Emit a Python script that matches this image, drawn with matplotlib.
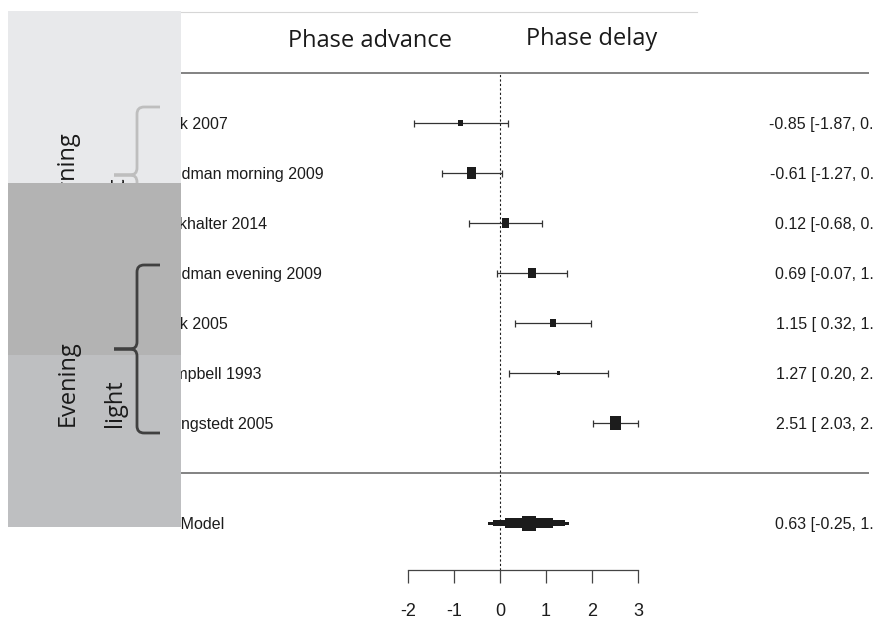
import matplotlib
matplotlib.use("Agg")
import matplotlib.pyplot as plt
from matplotlib.patches import Rectangle, PathPatch
from matplotlib.path import Path
from matplotlib.lines import Line2D
from matplotlib.transforms import Affine2D, Bbox, TransformedBbox

plt.rcParams['axes.unicode_minus'] = False

# forest plot data (standardised mean difference, 95% CI)
studies = ["Lack 2007", "Friedman morning 2009", "Burkhalter 2014",
           "Friedman evening 2009", "Lack 2005", "Campbell 1993", "Youngstedt 2005"]
est = [-0.85, -0.61, 0.12, 0.69, 1.15, 1.27, 2.51]
ci_lo = [-1.87, -1.27, -0.68, -0.07, 0.32, 0.20, 2.03]
ci_hi = [0.17, 0.05, 0.92, 1.45, 1.98, 2.34, 2.99]
weights = [10, 18, 14, 16, 13, 7, 22]

model_label = "RE Model"
model_est = 0.63
model_lo = -0.25
model_hi = 1.51

xticks = [-2, -1, 0, 1, 2, 3]

rfont = ['Liberation Sans', 'DejaVu Sans']
ofont = ['Open Sans', 'DejaVu Sans']
ink = '#1c1c1c'
fs = 11.5

fig = plt.figure(figsize=(8.74, 6.21), dpi=100)
# pixel coords, origin top-left (used for the slide overlay bits)
px = Affine2D().scale(1 / 100, -1 / 100).translate(0, 6.21) + fig.dpi_scale_trans

ax = fig.add_axes([0, 51 / 621, 1, 570 / 621])
ax.set_xlim(-500 / 46, 374 / 46)
ax.set_ylim(-1.94, 9.46)
for s in ['top', 'left', 'right']:
    ax.spines[s].set_visible(False)
ax.spines['bottom'].set_bounds(xticks[0], xticks[-1])
ax.spines['bottom'].set_color('#444444')
ax.spines['bottom'].set_linewidth(0.9)
ax.set_yticks([])
ax.set_xticks(xticks)
ax.set_xticklabels([str(t) for t in xticks], fontsize=13, family=rfont, color=ink)
ax.tick_params(axis='x', length=9.5, width=0.9, color='#444444', pad=14.5)

k = len(studies)
rows = list(range(k, 0, -1))
model_row = -1

lab_x = (154 - 500) / 46
res_x = (896 - 500) / 46
line_x1 = (869 - 500) / 46

# header / separator lines and the zero reference
ax.hlines([k + 1, 0], lab_x, line_x1, color='#606060', lw=1.1)
ax.vlines(0, -1.94, k + 1, color=ink, lw=0.8, linestyle=(0, (2, 2)))

# labels are cut by the slide box on the left
clipbox = TransformedBbox(Bbox([[181, 0], [874, 621]]), px)

for r, name, e, lo, hi, wt in zip(rows, studies, est, ci_lo, ci_hi, weights):
    ax.hlines(r, lo, hi, color='#333333', lw=0.9)
    ax.vlines([lo, hi], r - 0.07, r + 0.07, color='#333333', lw=0.9)
    bw = wt * 0.5 / 46
    bh = wt * 0.5 * 1.35 / 50
    ax.add_patch(Rectangle((e - bw / 2, r - bh / 2), bw, bh, facecolor=ink,
                           edgecolor='none', zorder=3))
    t = ax.text(lab_x, r - 0.12, name, ha='left', va='baseline', fontsize=fs,
                family=rfont, color=ink, clip_on=True)
    t.set_clip_path(None)
    t.set_clip_box(clipbox)
    ax.text(res_x, r - 0.12, f"{e:.2f} [{lo:5.2f}, {hi:.2f}]", ha='right',
            va='baseline', fontsize=fs, family=rfont, color=ink)

# summary polygon (stepped diamond as in the source image)
half = (model_hi - model_lo) / 2
for frac, hh in zip([1.0, 0.88, 0.6, 0.18], [1.5, 3.4, 5.4, 7.5]):
    ax.add_patch(Rectangle((model_est - frac * half, model_row - hh / 50),
                           2 * frac * half, 2 * hh / 50, facecolor=ink,
                           edgecolor='none', zorder=3))
t = ax.text(lab_x, model_row - 0.12, model_label, ha='left', va='baseline',
            fontsize=fs, family=rfont, color=ink, clip_on=True)
t.set_clip_path(None)
t.set_clip_box(clipbox)
ax.text(res_x, model_row - 0.12, f"{model_est:.2f} [{model_lo:.2f}, {model_hi:.2f}]",
        ha='right', va='baseline', fontsize=fs, family=rfont, color=ink)

# slide overlay: headers, grey boxes, braces
fig.add_artist(Line2D([181, 697], [11.5, 11.5], transform=px, color='#d6d6d6', lw=0.8))
fig.text(369.5, 47, "Phase advance", transform=px, ha='center', va='baseline',
         fontsize=17, family=ofont, color='#1a1a1a')
fig.text(591.5, 45, "Phase delay", transform=px, ha='center', va='baseline',
         fontsize=17, family=ofont, color='#1a1a1a')


def brace(x_end, x_spine, x_tip, y_top, y_bot, r=7):
    y_mid = (y_top + y_bot) / 2
    verts = [(x_end, y_top), (x_spine + r, y_top), (x_spine, y_top), (x_spine, y_top + r),
             (x_spine, y_mid - r), (x_spine, y_mid), (x_spine - r, y_mid),
             (x_tip, y_mid), (x_spine - r, y_mid), (x_spine, y_mid), (x_spine, y_mid + r),
             (x_spine, y_bot - r), (x_spine, y_bot), (x_spine + r, y_bot), (x_end, y_bot)]
    codes = [Path.MOVETO, Path.LINETO, Path.CURVE3, Path.CURVE3,
             Path.LINETO, Path.CURVE3, Path.CURVE3,
             Path.LINETO, Path.LINETO, Path.CURVE3, Path.CURVE3,
             Path.LINETO, Path.CURVE3, Path.CURVE3, Path.LINETO]
    return Path(verts, codes)


fig.add_artist(Rectangle((8, 11), 173, 172, transform=px, facecolor='#e8e9eb',
                         edgecolor='none', zorder=10))
fig.add_artist(PathPatch(brace(160, 137, 114, 107, 243), transform=px, facecolor='none',
                         edgecolor='#bebebe', lw=2, zorder=11))
fig.text(67, 177, "Morning", transform=px, rotation=90, ha='center', va='center',
         fontsize=17, family=ofont, color='#1a1a1a', zorder=11)
fig.text(117, 200, "light", transform=px, rotation=90, ha='center', va='center',
         fontsize=17, family=ofont, color='#1a1a1a', zorder=11)

fig.add_artist(Rectangle((8, 183), 173, 172, transform=px, facecolor='#b3b3b3',
                         edgecolor='none', zorder=12))
fig.add_artist(Rectangle((8, 355), 173, 172, transform=px, facecolor='#bebfc1',
                         edgecolor='none', zorder=12))
fig.add_artist(PathPatch(brace(160, 137, 114, 265, 433), transform=px, facecolor='none',
                         edgecolor='#404040', lw=2, zorder=13))
fig.text(68, 383.5, "Evening", transform=px, rotation=90, ha='center', va='center',
         fontsize=17, family=ofont, color='#1a1a1a', zorder=13)
fig.text(115, 403, "light", transform=px, rotation=90, ha='center', va='center',
         fontsize=17, family=ofont, color='#1a1a1a', zorder=13)

fig.savefig("out.png", dpi=100, facecolor='white')
